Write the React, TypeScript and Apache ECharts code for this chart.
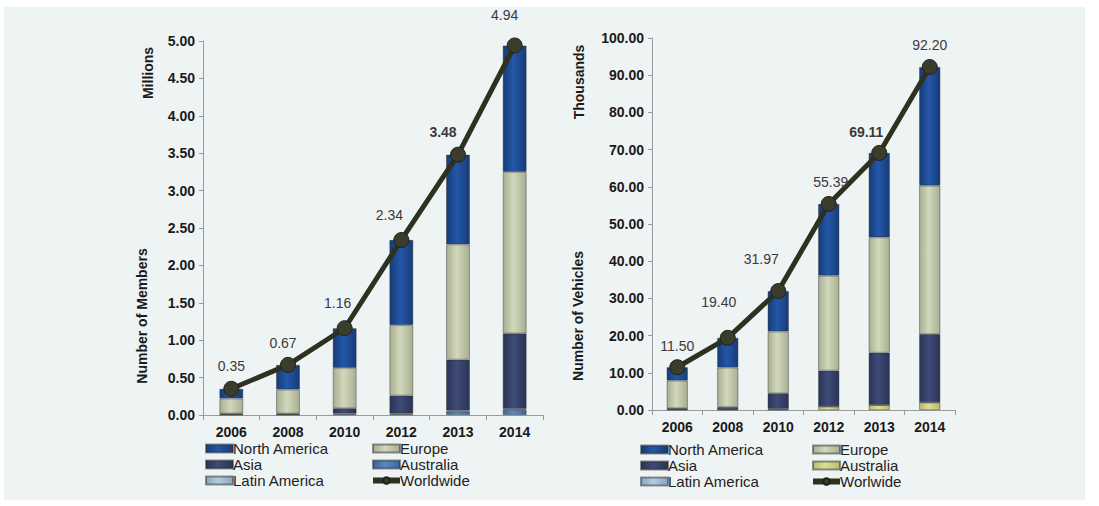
import React, { useEffect, useRef } from "react";
import * as echarts from "echarts";

const years = ["2006", "2008", "2010", "2012", "2013", "2014"];

// Left chart: members (millions)
const membersNorthAmerica = [0.13, 0.33, 0.53, 1.14, 1.2, 1.69];
const membersEurope = [0.2, 0.32, 0.54, 0.94, 1.54, 2.16];
const membersAsia = [0.01, 0.01, 0.07, 0.24, 0.68, 1.01];
const membersAustralia = [0.005, 0.005, 0.01, 0.01, 0.05, 0.07];
const membersLatinAmerica = [0.005, 0.005, 0.01, 0.01, 0.01, 0.01];
const membersWorldwide = [0.35, 0.67, 1.16, 2.34, 3.48, 4.94];
const membersBoldIndex = 4;

// Right chart: vehicles (thousands)
const vehiclesNorthAmerica = [3.6, 8.0, 10.87, 19.29, 22.71, 31.9];
const vehiclesEurope = [7.4, 10.6, 16.6, 25.5, 31.0, 39.9];
const vehiclesAsia = [0.3, 0.6, 4.2, 9.6, 14.0, 18.3];
const vehiclesAustralia = [0.1, 0.1, 0.1, 0.9, 1.3, 2.0];
const vehiclesLatinAmerica = [0.1, 0.1, 0.2, 0.1, 0.1, 0.1];
const vehiclesWorldwide = [11.5, 19.4, 31.97, 55.39, 69.11, 92.2];
const vehiclesBoldIndex = 4;

// label placement (style)
const membersLabelOffsets = [[0, -23], [-5, -22], [-7, -25], [-12, -25], [-15, -23], [-10, -30]];
const vehiclesLabelOffsets = [[0, -21], [-9, -36], [-17, -32], [2, -22], [-13, -21], [0, -22]];

const FONT = '"Liberation Sans", Arial, sans-serif';

const grad = (edge: string, mid: string) =>
  new echarts.graphic.LinearGradient(0, 0, 1, 0, [
    { offset: 0, color: edge },
    { offset: 0.45, color: mid },
    { offset: 1, color: edge },
  ]);

const COLORS = {
  na: () => grad("#163c78", "#2457a8"),
  eu: () => grad("#a8ae92", "#d2d8bc"),
  asia: () => grad("#2a3456", "#3f4b78"),
  ausL: () => grad("#3a669e", "#5a88c0"),
  ausR: () => grad("#b8bb6a", "#dcdf98"),
  lat: () => grad("#8aa6c4", "#b4cade"),
};

function barSeries(name: string, data: number[], color: any, axisIdx: number, stack: string) {
  return {
    type: "bar",
    name,
    data,
    stack,
    xAxisIndex: axisIdx,
    yAxisIndex: axisIdx,
    barWidth: "42%",
    itemStyle: { color, borderColor: "rgba(40,40,40,0.5)", borderWidth: 0.8 },
    z: 2,
  };
}

function lineSeries(name: string, data: number[], axisIdx: number, offsets: number[][], boldIdx: number) {
  return {
    type: "line",
    name,
    xAxisIndex: axisIdx,
    yAxisIndex: axisIdx,
    data: data.map((v, i) => ({
      value: v,
      label: {
        show: true,
        position: "inside",
        offset: offsets[i],
        fontWeight: i === boldIdx ? "bold" : "normal",
      },
    })),
    symbol: "circle",
    symbolSize: 15,
    lineStyle: { color: "#2d311f", width: 5 },
    itemStyle: { color: "#3a3d2b", borderColor: "#1f2215", borderWidth: 1 },
    label: {
      show: true,
      formatter: (p: any) => Number(p.value).toFixed(2),
      fontFamily: FONT,
      fontSize: 14,
      color: "#3a3a3a",
    },
    z: 5,
  };
}

function axesFor(gridIndex: number, max: number, interval: number) {
  return {
    x: {
      type: "category",
      gridIndex,
      data: years,
      axisLine: { lineStyle: { color: "#9a9a9a" } },
      axisTick: { show: true, alignWithLabel: false, lineStyle: { color: "#9a9a9a" }, length: 5 },
      axisLabel: { fontFamily: FONT, fontWeight: "bold", fontSize: 14, color: "#1a1a1a", margin: 10 },
    },
    y: {
      type: "value",
      gridIndex,
      min: 0,
      max,
      interval,
      axisLine: { show: true, lineStyle: { color: "#9a9a9a" } },
      axisTick: { show: true, length: 4, lineStyle: { color: "#9a9a9a" } },
      splitLine: { show: false },
      axisLabel: {
        fontFamily: FONT,
        fontWeight: "bold",
        fontSize: 14,
        color: "#1a1a1a",
        margin: 8,
        formatter: (v: number) => v.toFixed(2),
      },
    },
  };
}

function legendCol(left: number, top: number, names: string[], lineName: string | null, strip: boolean) {
  const data: any[] = names.map((n) => ({ name: n, icon: "rect" }));
  if (lineName) {
    data.push({
      name: lineName,
      lineStyle: { width: 6, color: "#2d311f" },
      itemStyle: { color: "#3a3d2b" },
    });
  }
  return {
    left,
    top,
    orient: "vertical",
    itemWidth: 27,
    itemHeight: 8,
    itemGap: 1,
    padding: 0,
    selectedMode: false,
    data,
    formatter: (n: string) => (strip ? n.replace("R:", "") : n),
    textStyle: { fontFamily: FONT, fontSize: 15, color: "#222222", lineHeight: 15, padding: [0, 0, 0, -5] },
  };
}

const nameStyle = (text: string) => ({
  text,
  font: `bold 14px ${FONT}`,
  fill: "#1a1a1a",
  textAlign: "center",
  textVerticalAlign: "middle",
});

export default function App() {
  const ref = useRef<HTMLDivElement>(null);
  useEffect(() => {
    document.body.style.margin = "0";
    if (!ref.current) return;
    const chart = echarts.init(ref.current, undefined, { renderer: "svg" });
    const a0 = axesFor(0, 5, 0.5);
    const a1 = axesFor(1, 100, 10);
    const option: any = {
      animation: false,
      backgroundColor: "#ffffff",
      textStyle: { fontFamily: FONT },
      grid: [
        { left: 203, right: 556, top: 41, bottom: 91, containLabel: false },
        { left: 652, right: 144, top: 38, bottom: 96, containLabel: false },
      ],
      xAxis: [a0.x, a1.x],
      yAxis: [a0.y, a1.y],
      legend: [
        legendCol(205, 441, ["North America", "Asia", "Latin America"], null, false),
        legendCol(370, 441, ["Europe", "Australia"], "Worldwide", false),
        legendCol(640, 442, ["R:North America", "R:Asia", "R:Latin America"], null, true),
        legendCol(810, 442, ["R:Europe", "R:Australia"], "R:Worlwide", true),
      ],
      graphic: [
        {
          type: "rect",
          z: -100,
          silent: true,
          shape: { x: 4, y: 7, width: 1081, height: 493 },
          style: { fill: "#eef3f4" },
        },
        { type: "text", x: 148, y: 73, rotation: Math.PI / 2, style: nameStyle("Millions") },
        { type: "text", x: 142, y: 316, rotation: Math.PI / 2, style: nameStyle("Number of Members") },
        { type: "text", x: 579, y: 82, rotation: Math.PI / 2, style: nameStyle("Thousands") },
        { type: "text", x: 578, y: 316, rotation: Math.PI / 2, style: nameStyle("Number of Vehicles") },
      ],
      series: [
        barSeries("Australia", membersAustralia, COLORS.ausL(), 0, "m"),
        barSeries("Latin America", membersLatinAmerica, COLORS.lat(), 0, "m"),
        barSeries("Asia", membersAsia, COLORS.asia(), 0, "m"),
        barSeries("Europe", membersEurope, COLORS.eu(), 0, "m"),
        barSeries("North America", membersNorthAmerica, COLORS.na(), 0, "m"),
        lineSeries("Worldwide", membersWorldwide, 0, membersLabelOffsets, membersBoldIndex),
        barSeries("R:Australia", vehiclesAustralia, COLORS.ausR(), 1, "v"),
        barSeries("R:Latin America", vehiclesLatinAmerica, COLORS.lat(), 1, "v"),
        barSeries("R:Asia", vehiclesAsia, COLORS.asia(), 1, "v"),
        barSeries("R:Europe", vehiclesEurope, COLORS.eu(), 1, "v"),
        barSeries("R:North America", vehiclesNorthAmerica, COLORS.na(), 1, "v"),
        lineSeries("R:Worlwide", vehiclesWorldwide, 1, vehiclesLabelOffsets, vehiclesBoldIndex),
      ],
    };
    chart.setOption(option);
    return () => chart.dispose();
  }, []);
  return <div ref={ref} style={{ width: 1099, height: 506 }} />;
}
